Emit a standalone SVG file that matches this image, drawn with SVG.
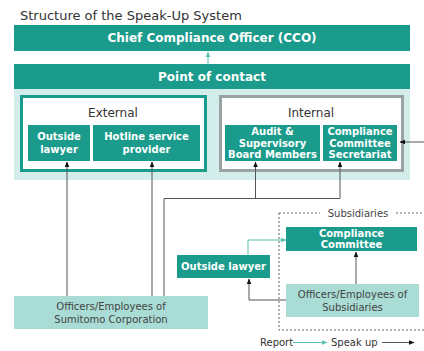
<svg xmlns="http://www.w3.org/2000/svg" width="424" height="351" viewBox="0 0 424 351">
<defs>
<style>
text{font-family:"Verdana","DejaVu Sans","Liberation Sans",sans-serif;}
.t{fill:#333;font-size:13px;}
.w{fill:#fff;font-weight:bold;font-size:10px;text-anchor:middle;}
.wb{fill:#fff;font-weight:bold;font-size:12px;text-anchor:middle;}
.d{fill:#444;font-size:10px;text-anchor:middle;}
.dk{fill:#1a9b8b;}
.lt{fill:#a9dcd5;}
.ln{fill:none;stroke:#555;stroke-width:1;}
.tl{fill:none;stroke:#5cc0b3;stroke-width:1;}
</style>
<marker id="ab" viewBox="0 0 10 10" refX="9" refY="5" markerWidth="6" markerHeight="6" orient="auto"><path d="M0,1 L10,5 L0,9 z" fill="#111"/></marker>
<marker id="at" viewBox="0 0 10 10" refX="9" refY="5" markerWidth="6" markerHeight="6" orient="auto"><path d="M0,1 L10,5 L0,9 z" fill="#5cc0b3"/></marker>
</defs>
<rect width="424" height="351" fill="#fff"/>
<text class="t" x="20" y="20">Structure of the Speak-Up System</text>

<g id="cco"><rect class="dk" x="14" y="25" width="396" height="26"/><text class="wb" x="212" y="42">Chief Compliance Officer (CCO)</text></g>
<rect x="14" y="89" width="396" height="91" fill="#d3edea"/>
<g id="poc"><rect class="dk" x="14" y="64" width="396" height="25"/><text class="wb" x="212" y="81">Point of contact</text></g>

<g id="external"><rect x="21.5" y="96.5" width="184" height="74" fill="#fff" stroke="#1a9b8b" stroke-width="3"/><text x="113" y="117" fill="#333" font-size="12" text-anchor="middle">External</text></g>
<g id="outside-lawyer"><rect class="dk" x="28" y="125" width="62" height="36"/><text class="w" x="59" y="140">Outside</text><text class="w" x="59" y="153">lawyer</text></g>
<g id="hotline"><rect class="dk" x="93" y="125" width="107" height="36"/><text class="w" x="146.5" y="140">Hotline service</text><text class="w" x="146.5" y="153">provider</text></g>

<g id="internal"><rect x="220.5" y="96.5" width="182" height="74" fill="#fff" stroke="#9aa3a3" stroke-width="3"/><text x="311" y="117" fill="#333" font-size="12" text-anchor="middle">Internal</text></g>
<g id="audit"><rect class="dk" x="225" y="125" width="95" height="36"/><text class="w" x="272.5" y="135">Audit &amp;</text><text class="w" x="272.5" y="146.5">Supervisory</text><text class="w" x="272.5" y="158">Board Members</text></g>
<g id="ccs"><rect class="dk" x="323" y="125" width="74" height="36"/><text class="w" x="360" y="135">Compliance</text><text class="w" x="360" y="146.5">Committee</text><text class="w" x="360" y="158">Secretariat</text></g>

<g id="subsidiaries"><path d="M279,213 H320 M396,213 H424 M279,213 V330 H424" fill="none" stroke="#666" stroke-width="1" stroke-dasharray="2,2"/><text x="358" y="217" fill="#444" font-size="10" text-anchor="middle">Subsidiaries</text></g>
<g id="sub-cc"><rect class="dk" x="286" y="227" width="131" height="24"/><text class="w" x="351.5" y="237">Compliance</text><text class="w" x="351.5" y="248">Committee</text></g>
<g id="sub-lawyer"><rect class="dk" x="177" y="255" width="93" height="23"/><text class="w" x="223.5" y="270">Outside lawyer</text></g>
<g id="sub-officers"><rect class="lt" x="286" y="284" width="133" height="33"/><text class="d" x="352.5" y="298">Officers/Employees of</text><text class="d" x="352.5" y="311">Subsidiaries</text></g>
<g id="sc-officers"><rect class="lt" x="14" y="296" width="194" height="33"/><text class="d" x="111" y="310">Officers/Employees of</text><text class="d" x="111" y="323">Sumitomo Corporation</text></g>

<g id="connectors">
<path class="tl" d="M208,64 V52" marker-end="url(#at)"/>
<path class="ln" d="M67,296 V162" marker-end="url(#ab)"/>
<path class="ln" d="M152,296 V162" marker-end="url(#ab)"/>
<path class="ln" d="M164,296 V198.5 H340"/>
<path class="ln" d="M255.5,198.5 V162" marker-end="url(#ab)"/>
<path class="ln" d="M340,198.5 V162" marker-end="url(#ab)"/>
<path class="ln" d="M424,142 H400" marker-end="url(#ab)"/>
<path class="ln" d="M356,284 V252" marker-end="url(#ab)"/>
<path class="ln" d="M286,300 H249 V279" marker-end="url(#ab)"/>
<path class="tl" d="M248,255 V240 H286" marker-end="url(#at)"/>
</g>
<g id="legend">
<text x="260" y="346" fill="#333" font-size="10">Report</text>
<path class="tl" d="M293,342.5 H327" marker-end="url(#at)"/>
<text x="331" y="346" fill="#333" font-size="10">Speak up</text>
<path class="ln" d="M382,342.5 H414" marker-end="url(#ab)"/>
</g>
</svg>
